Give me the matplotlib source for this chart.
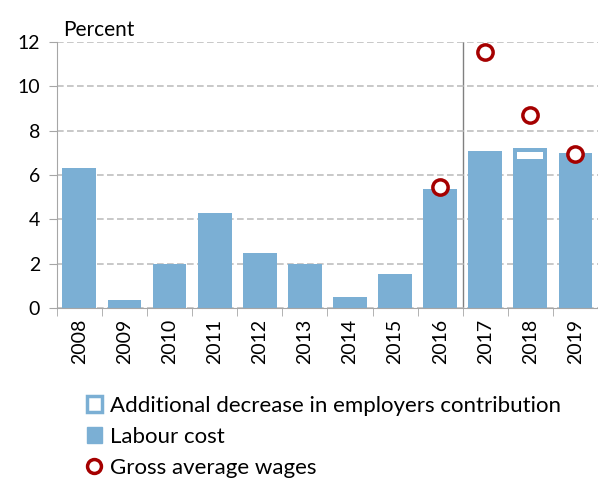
import matplotlib
matplotlib.use("Agg")
from matplotlib import pyplot as plt
from matplotlib.patches import Patch
from matplotlib.lines import Line2D

years = ["2008", "2009", "2010", "2011", "2012", "2013", "2014", "2015", "2016", "2017", "2018", "2019"]
labour_cost = [6.3, 0.35, 2.0, 4.3, 2.5, 2.0, 0.5, 1.55, 5.35, 7.1, 6.55, 7.0]
extra_decrease = [0, 0, 0, 0, 0, 0, 0, 0, 0, 0, 0.65, 0]
wage_years = ["2016", "2017", "2018", "2019"]
gross_wages = [5.45, 11.55, 8.7, 6.95]

plt.rcParams["font.family"] = ["Lato", "DejaVu Sans"]
bar_col = "#7bafd4"
red = "#a50000"
grey = "#a6a6a6"
width = 0.75
inset_x, inset_y = 0.09, 0.18  # white window inside the "additional" part

fig = plt.figure(figsize=(5.98, 4.79), dpi=100)
ax = fig.add_axes([0.095, 0.357, 0.905, 0.555])

x = list(range(len(years)))
ax.bar(x, labour_cost, width=width, color=bar_col, zorder=2)
ax.bar(x, extra_decrease, width=width, bottom=labour_cost, color=bar_col, zorder=2)
# hollow look: white bar inside the additional segment
ex = [i for i in x if extra_decrease[i] > 0]
ax.bar(ex, [extra_decrease[i] - 2 * inset_y for i in ex], width=width - 2 * inset_x,
       bottom=[labour_cost[i] + inset_y for i in ex], color="white", zorder=2)

wx = [years.index(y) for y in wage_years]
ax.plot(wx, gross_wages, "o", markersize=11, markerfacecolor="white",
        markeredgecolor=red, markeredgewidth=2.5, linestyle="none", zorder=3)

ax.axvline(8.5, color="#808080", linewidth=1, zorder=1)

ax.set_xlim(-0.5, 11.5)
ax.set_ylim(0, 12)
ax.set_yticks(range(0, 13, 2))
ax.yaxis.grid(True, linestyle=(0, (4, 2)), color="#bfbfbf", linewidth=1.2, zorder=0)
ax.set_xticks(x)
ax.set_xticklabels(years, rotation=90, fontsize=14)
ax.set_xticks([i - 0.5 for i in range(13)], minor=True)
ax.tick_params(axis="x", which="major", length=0, pad=8)
ax.tick_params(axis="x", which="minor", length=6, color=grey)
ax.tick_params(axis="y", length=6, color=grey, labelsize=14, pad=6)
for s in ["top", "right"]:
    ax.spines[s].set_visible(False)
ax.spines["left"].set_color(grey)
ax.spines["bottom"].set_color(grey)

fig.text(0.105, 0.925, "Percent", fontsize=15)

handles = [
    Patch(facecolor="white", edgecolor=bar_col, linewidth=2.5),
    Patch(facecolor=bar_col, edgecolor=bar_col),
    Line2D([], [], marker="o", linestyle="none", markersize=10, markerfacecolor="white",
           markeredgecolor=red, markeredgewidth=2.5),
]
labels = ["Additional decrease in employers contribution", "Labour cost", "Gross average wages"]
fig.legend(handles, labels, loc="upper left", bbox_to_anchor=(0.145, 0.174), frameon=False,
           fontsize=16, handlelength=0.7, handleheight=0.7, handletextpad=0.35,
           labelspacing=0.5, borderpad=0, borderaxespad=0)

fig.savefig("out.png", dpi=100)
